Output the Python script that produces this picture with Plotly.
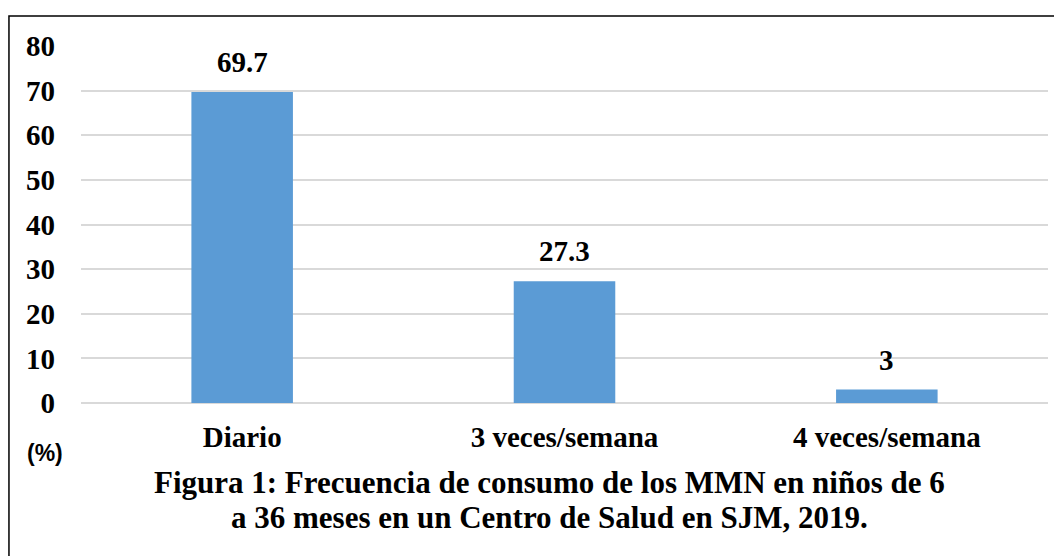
import plotly.graph_objects as go

# datos de la figura
categorias = ["Diario", "3 veces/semana", "4 veces/semana"]
porcentajes = [69.7, 27.3, 3]
etiquetas = ["69.7", "27.3", "3"]
ticks_y = [0, 10, 20, 30, 40, 50, 60, 70, 80]
titulo = ["Figura 1: Frecuencia de consumo de los MMN en niños de 6",
          "a 36 meses en un Centro de Salud en SJM, 2019."]

serif = "Liberation Serif, Times New Roman, serif"

fig = go.Figure()
fig.add_trace(go.Bar(
    x=categorias, y=porcentajes,
    marker=dict(color="#5B9BD5", line=dict(width=0)),
    hoverinfo="skip",
))

# etiquetas de datos encima de cada barra
for cat, val, txt in zip(categorias, porcentajes, etiquetas):
    fig.add_annotation(x=cat, y=val, text=txt, showarrow=False,
                       yanchor="bottom", yshift=12,
                       font=dict(family=serif, size=29, color="#000000", weight="bold"))

# titulo de la figura abajo (dos lineas separadas para controlar el interlineado)
for linea, ypos in zip(titulo, [-0.222, -0.32]):
    fig.add_annotation(xref="paper", yref="paper", x=0.484, y=ypos, yanchor="middle",
                       text=linea, showarrow=False,
                       font=dict(family=serif, size=31, color="#000000", weight="bold"))

fig.add_annotation(
    xref="paper", yref="paper", x=-0.058, y=-0.14, yanchor="middle",
    text="(%)", showarrow=False,
    font=dict(family="Liberation Sans, Arial, sans-serif", size=23, color="#000000", weight="bold"),
)

# borde del grafico (el lado derecho y el inferior quedan fuera de la imagen)
fig.add_shape(type="rect", xref="paper", yref="paper",
              x0=-0.0745, x1=1.1, y0=-0.6, y1=1.084,
              line=dict(color="#000000", width=1.5), layer="above")

fig.update_xaxes(
    tickfont=dict(family=serif, size=29, color="#000000", weight="bold"),
    ticklabelstandoff=14, showline=False, showgrid=False,
)
fig.update_yaxes(
    range=[0, 80], tickvals=ticks_y,
    tickfont=dict(family=serif, size=29, color="#000000", weight="bold"),
    ticklabelstandoff=25,
    showgrid=True, gridcolor="#D9D9D9", gridwidth=1.5,
    zeroline=True, zerolinecolor="#D9D9D9", zerolinewidth=1.5,
    showline=False,
)
fig.update_layout(
    width=1062, height=556,
    margin=dict(l=73, r=22, t=38, b=161),
    bargap=0.685,
    plot_bgcolor="#FFFFFF", paper_bgcolor="#FFFFFF",
    showlegend=False,
)

fig.write_html("out.html")
